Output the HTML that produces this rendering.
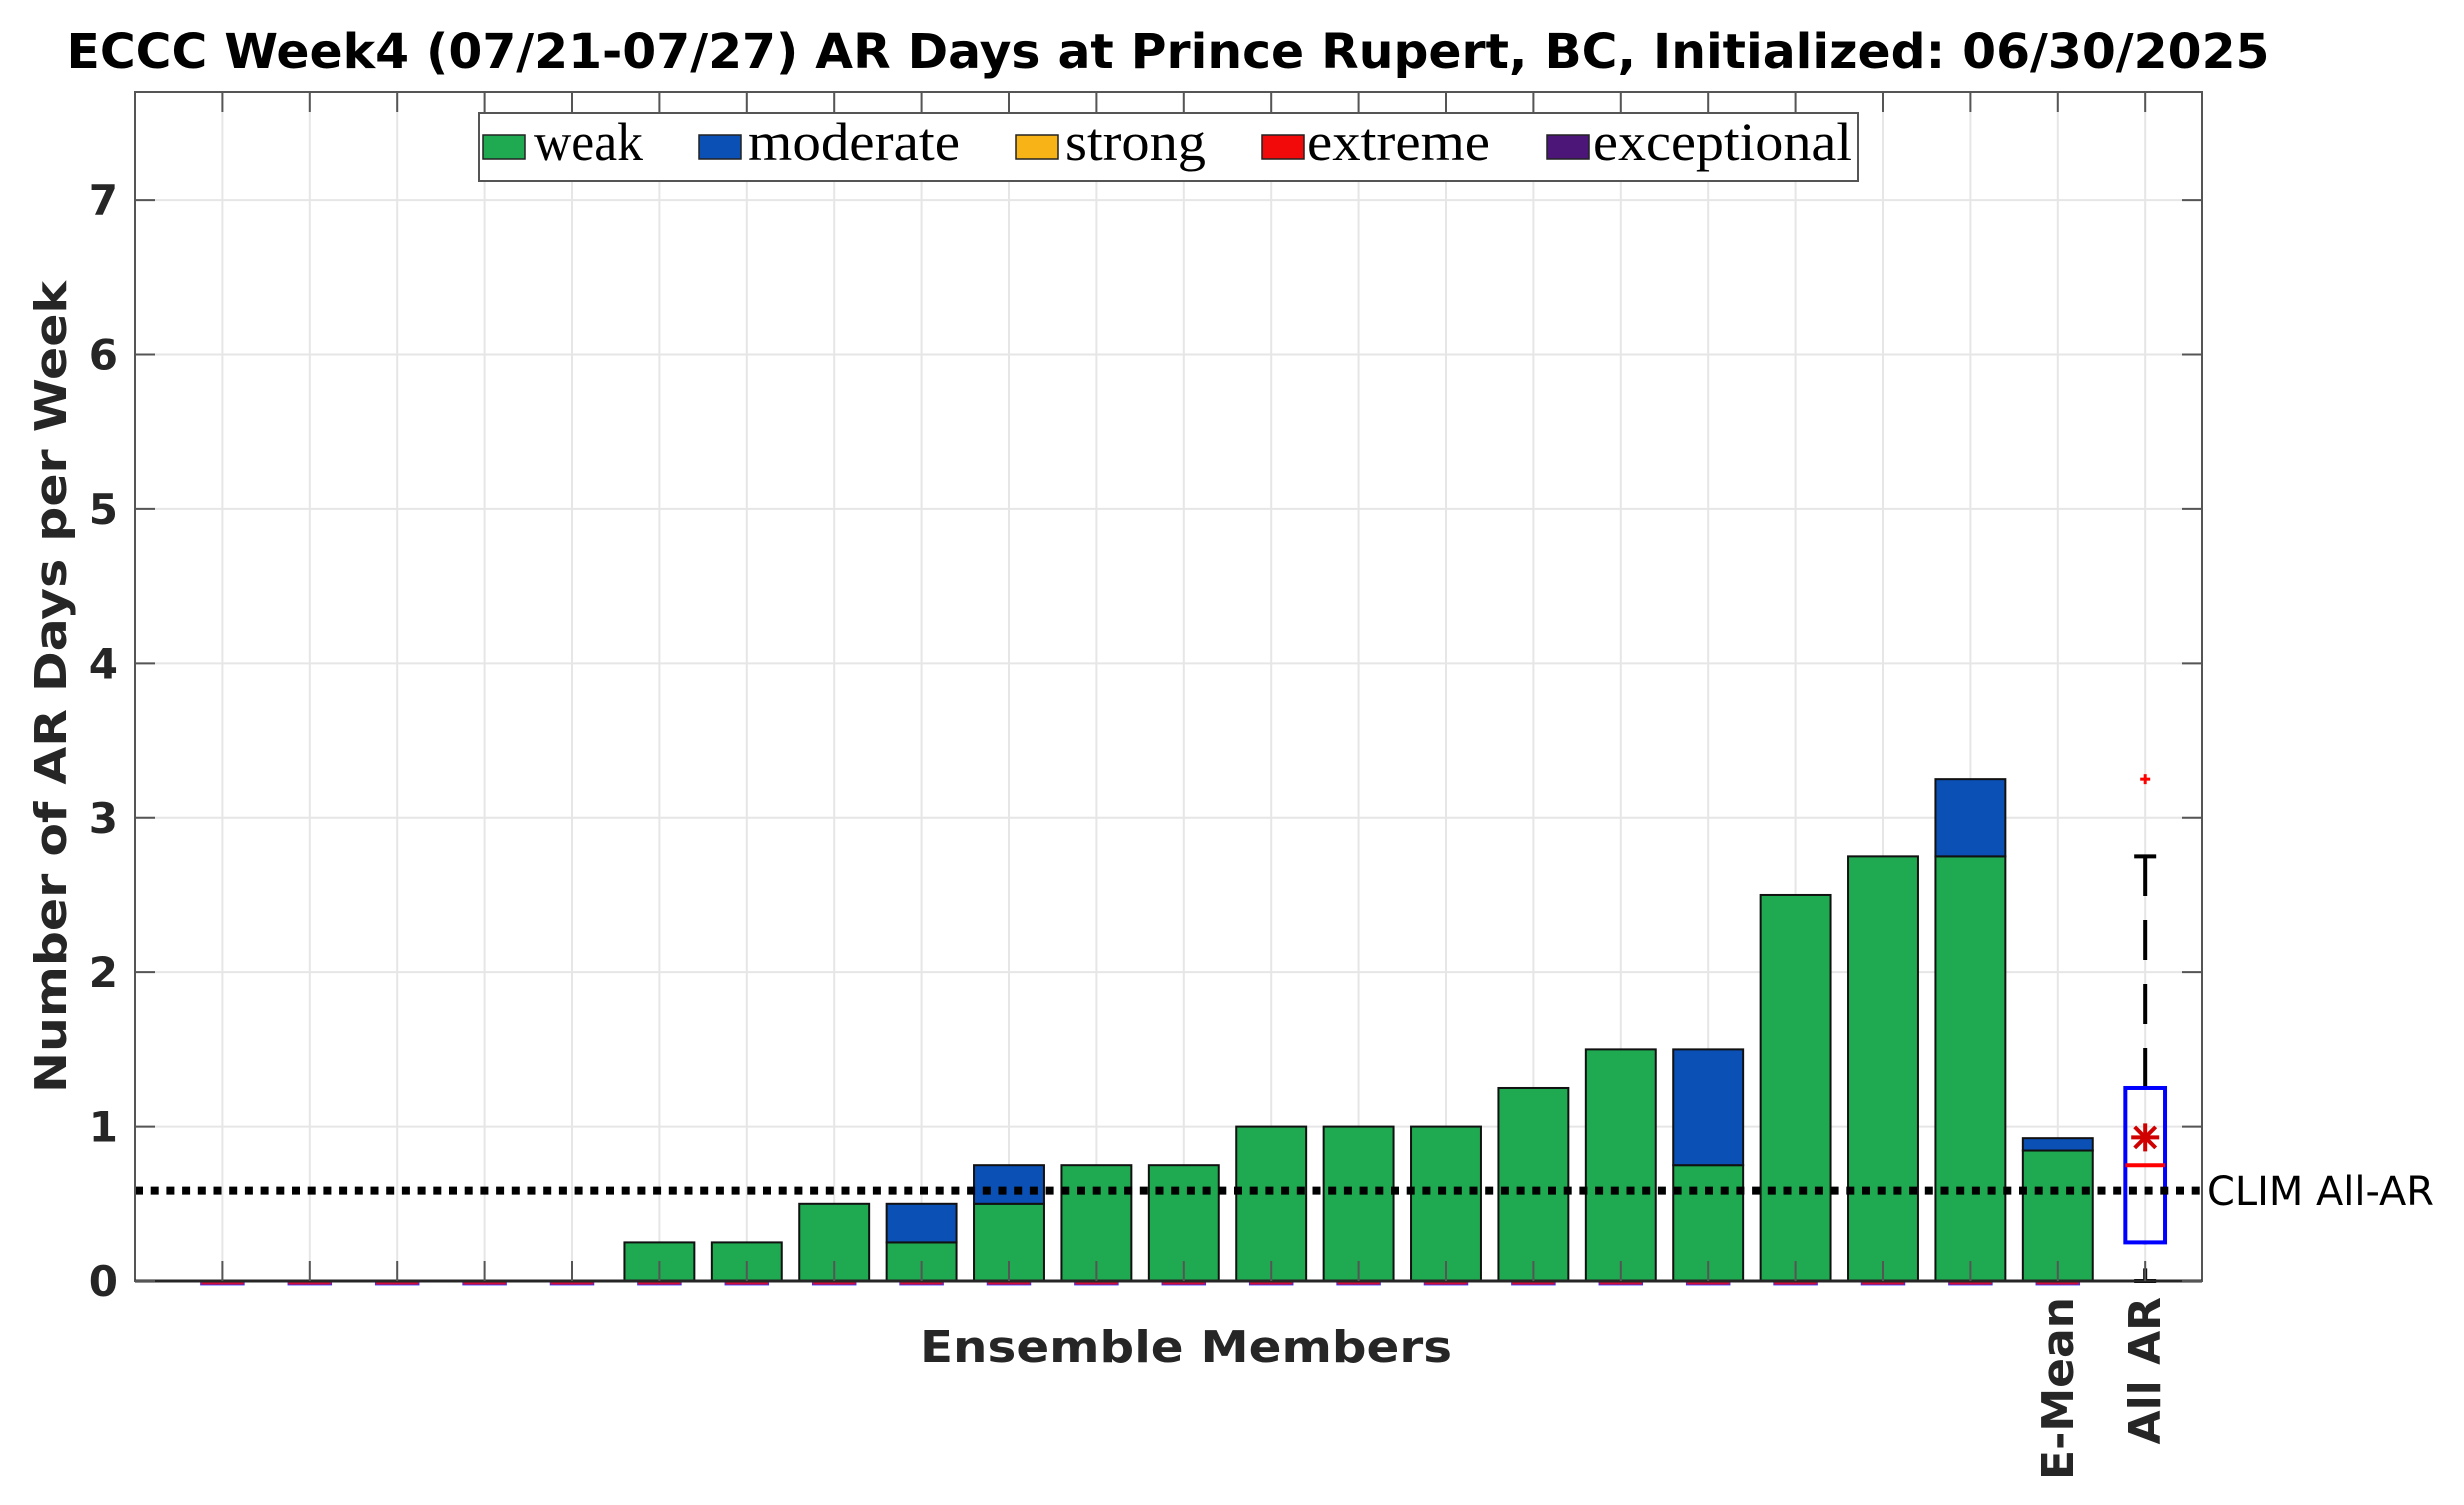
<!DOCTYPE html>
<html><head><meta charset="utf-8">
<style>
html,body{margin:0;padding:0;background:#fff;}
svg{display:block;}
text{font-family:"DejaVu Sans","Liberation Sans",sans-serif;}
.lg{font-family:"Liberation Serif","DejaVu Serif",serif;font-size:54px;fill:#000;}
</style></head>
<body>
<svg id="chart" width="2464" height="1505" viewBox="0 0 2464 1505" xmlns="http://www.w3.org/2000/svg">
<rect x="0" y="0" width="2464" height="1505" fill="#fff"/>
<text x="1168" y="68" text-anchor="middle" font-size="48" font-weight="bold" fill="#000" textLength="2203" lengthAdjust="spacingAndGlyphs">ECCC Week4 (07/21-07/27) AR Days at Prince Rupert, BC, Initialized: 06/30/2025</text>
<g id="grid"></g>
<g id="bars"></g>
<g id="box"></g>
<g id="axes"></g>
<g id="legend">
  <rect x="479" y="113" width="1379" height="68" fill="#fff" stroke="#555" stroke-width="2"/>
  <g><rect x="483" y="135" width="42" height="24" fill="#1fa950" stroke="#222" stroke-width="1.5"/><text class="lg" x="534" y="160" textLength="109" lengthAdjust="spacingAndGlyphs">weak</text></g>
  <g><rect x="699" y="135" width="42" height="24" fill="#0a50b5" stroke="#222" stroke-width="1.5"/><text class="lg" x="748" y="160" textLength="212" lengthAdjust="spacingAndGlyphs">moderate</text></g>
  <g><rect x="1016" y="135" width="42" height="24" fill="#f8b417" stroke="#222" stroke-width="1.5"/><text class="lg" x="1065" y="160" textLength="141" lengthAdjust="spacingAndGlyphs">strong</text></g>
  <g><rect x="1262" y="135" width="42" height="24" fill="#f20a0a" stroke="#222" stroke-width="1.5"/><text class="lg" x="1307" y="160" textLength="183" lengthAdjust="spacingAndGlyphs">extreme</text></g>
  <g><rect x="1547" y="135" width="42" height="24" fill="#4b1678" stroke="#222" stroke-width="1.5"/><text class="lg" x="1593" y="160" textLength="259" lengthAdjust="spacingAndGlyphs">exceptional</text></g>
</g>
<text transform="translate(66,687) rotate(-90)" text-anchor="middle" font-size="44" font-weight="bold" fill="#262626" textLength="812" lengthAdjust="spacingAndGlyphs">Number of AR Days per Week</text>
<text x="1186" y="1362" text-anchor="middle" font-size="44" font-weight="bold" fill="#262626" textLength="532" lengthAdjust="spacingAndGlyphs">Ensemble Members</text>
<text x="2207" y="1205" font-size="40" fill="#000" textLength="227" lengthAdjust="spacingAndGlyphs">CLIM All-AR</text>
</svg>
<script>
const memberWeak = [0,0,0,0,0,0.25,0.25,0.5,0.25,0.5,0.75,0.75,1,1,1,1.25,1.5,0.75,2.5,2.75,2.75];
const memberModerate = [0,0,0,0,0,0,0,0,0.25,0.25,0,0,0,0,0,0,0,0.75,0,0,0.5];
const emeanWeak = 0.845;
const emeanModerate = 0.08;
const boxQ1 = 0.25, boxMedian = 0.75, boxQ3 = 1.25, boxMean = 0.93, whiskerLow = 0, whiskerHigh = 2.75;
const outliers = [3.25];
const climValue = 0.585;
const yTicks = [0,1,2,3,4,5,6,7];
const xLabels = ["E-Mean","All AR"];

const NS = "http://www.w3.org/2000/svg";
const L = 135, R = 2202, T = 92, B = 1281;
const xMin = 0, xMax = 23.65, yMin = 0, yMax = 7.7;
const sx = v => L + (v - xMin) / (xMax - xMin) * (R - L);
const sy = v => B - (v - yMin) / (yMax - yMin) * (B - T);
function mk(tag, attrs, parent){const e=document.createElementNS(NS,tag);for(const k in attrs)e.setAttribute(k,attrs[k]);parent.appendChild(e);return e;}
const grid = document.getElementById('grid'), bars = document.getElementById('bars'), box = document.getElementById('box'), axes = document.getElementById('axes');

const nPos = memberWeak.length + 2;
for (let i = 1; i <= nPos; i++) {
  const g = mk('line',{x1:sx(i),x2:sx(i),y1:T,y2:B,stroke:'#e6e6e6','stroke-width':2},grid);
  
  
}
yTicks.forEach(v => {
  const g = mk('line',{x1:L,x2:R,y1:sy(v),y2:sy(v),stroke:'#e6e6e6','stroke-width':2},grid);
  
  
});

const bw = 0.8;
function drawBar(x, w, m, idx){
  const zr = mk('rect',{x:sx(x-0.25),y:sy(0)-1,width:sx(0.5)-sx(0),height:5,fill:'#d0103a',stroke:'#3030ff','stroke-width':0.8},bars);
  
  
  if (w > 0) {
    const r = mk('rect',{x:sx(x-bw/2),y:sy(w),width:sx(bw)-sx(0),height:sy(0)-sy(w),fill:'#1fa950',stroke:'#111','stroke-width':2},bars);
    
    
  }
  if (m > 0) {
    const r = mk('rect',{x:sx(x-bw/2),y:sy(w+m),width:sx(bw)-sx(0),height:sy(w)-sy(w+m),fill:'#0a50b5',stroke:'#111','stroke-width':2},bars);
    
    
  }
}
memberWeak.forEach((w,i) => drawBar(i+1, w, memberModerate[i], 'member-'+(i+1)));
drawBar(memberWeak.length+1, emeanWeak, emeanModerate, 'emean');

// boxplot
const bx = memberWeak.length + 2, bwid = 0.5;
let e;
e = mk('line',{x1:sx(bx),x2:sx(bx),y1:sy(boxQ3),y2:sy(whiskerHigh),stroke:'#000','stroke-width':4,'stroke-dasharray':'40 24'},box);
 
e = mk('line',{x1:sx(bx),x2:sx(bx),y1:sy(boxQ1),y2:sy(whiskerLow),stroke:'#000','stroke-width':4,'stroke-dasharray':'40 24','stroke-dashoffset':'-26'},box);
 
[whiskerHigh, whiskerLow].forEach(v => {
  const c = mk('line',{x1:sx(bx)-11,x2:sx(bx)+11,y1:sy(v),y2:sy(v),stroke:'#000','stroke-width':4},box);
  
  
});
e = mk('rect',{x:sx(bx-bwid/2)+2,y:sy(boxQ3),width:sx(bwid)-sx(0)-4,height:sy(boxQ1)-sy(boxQ3),fill:'none',stroke:'#0000ff','stroke-width':4},box);
 
e = mk('line',{x1:sx(bx-bwid/2)+2,x2:sx(bx+bwid/2)-2,y1:sy(boxMedian),y2:sy(boxMedian),stroke:'#ff0000','stroke-width':4},box);
 
const my = sy(boxMean), mxp = sx(bx), s = 14;
const star = mk('g',{stroke:'#d00000','stroke-width':4},box);


mk('line',{x1:mxp,x2:mxp,y1:my-s,y2:my+s},star);
mk('line',{x1:mxp-s,x2:mxp+s,y1:my,y2:my},star);
mk('line',{x1:mxp-s*0.75,x2:mxp+s*0.75,y1:my-s*0.75,y2:my+s*0.75},star);
mk('line',{x1:mxp-s*0.75,x2:mxp+s*0.75,y1:my+s*0.75,y2:my-s*0.75},star);
outliers.forEach(v => {
  const o = mk('g',{stroke:'#ff0000','stroke-width':3},box);
  
  
  mk('line',{x1:sx(bx)-5,x2:sx(bx)+5,y1:sy(v),y2:sy(v)},o);
  mk('line',{x1:sx(bx),x2:sx(bx),y1:sy(v)-5,y2:sy(v)+5},o);
});

// clim line
e = mk('line',{x1:L,x2:R+4,y1:sy(climValue),y2:sy(climValue),stroke:'#000','stroke-width':8,'stroke-dasharray':'8 7.7'},axes);
 

// axes frame
e = mk('rect',{x:L,y:T,width:R-L,height:B-T,fill:'none',stroke:'#555','stroke-width':2},axes);
 
e = mk('line',{x1:L,x2:R,y1:B,y2:B,stroke:'#262626','stroke-width':3},axes);
 
for (let i = 1; i <= nPos; i++) {
  const t1 = mk('line',{x1:sx(i),x2:sx(i),y1:B,y2:B-20,stroke:'#555','stroke-width':2},axes);
   
  const t2 = mk('line',{x1:sx(i),x2:sx(i),y1:T,y2:T+20,stroke:'#555','stroke-width':2},axes);
   
}
yTicks.forEach(v => {
  const t1 = mk('line',{x1:L,x2:L+20,y1:sy(v),y2:sy(v),stroke:'#555','stroke-width':2},axes);
   
  const t2 = mk('line',{x1:R-20,x2:R,y1:sy(v),y2:sy(v),stroke:'#555','stroke-width':2},axes);
   
  const tl = mk('text',{x:118,y:sy(v)+15,'text-anchor':'end','font-size':42,'font-weight':'bold',fill:'#262626'},axes);
  tl.textContent = v;
   
});
xLabels.forEach((lab,i) => {
  const px = sx(memberWeak.length + 1 + i) + 15;
  const tl = mk('text',{transform:`translate(${px},1297) rotate(-90)`,'text-anchor':'end','font-size':44,'font-weight':'bold',fill:'#262626'},axes);
  tl.textContent = lab;
   
});
</script>
</body></html>
